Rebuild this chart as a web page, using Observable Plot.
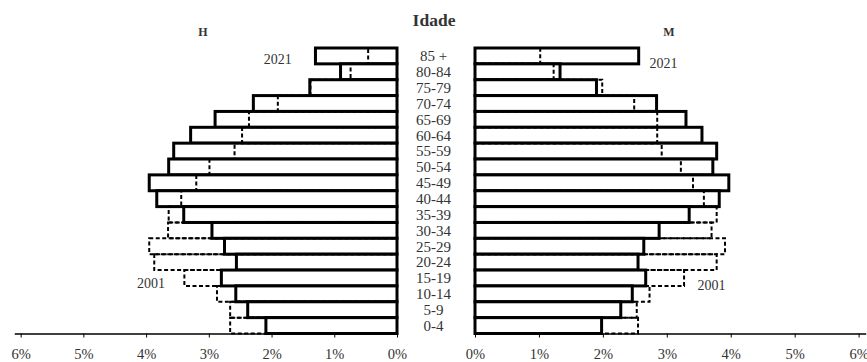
<!DOCTYPE html>
<html><head><meta charset="utf-8">
<script src="https://cdn.jsdelivr.net/npm/d3@7"></script>
<script src="https://cdn.jsdelivr.net/npm/@observablehq/plot@0.6"></script>
<style>
body{margin:0;background:#fff;}
#wrap{position:relative;width:867px;height:362px;font-family:"Liberation Serif",serif;color:#333;overflow:hidden}
#wrap svg{position:absolute;top:0;overflow:visible}
.lab{position:absolute;transform:translate(-50%,-50%);white-space:nowrap;line-height:1}
</style></head><body>
<div id="wrap"></div>
<script>
const ages = ["85 +","80-84","75-79","70-74","65-69","60-64","55-59","50-54","45-49","40-44","35-39","30-34","25-29","20-24","15-19","10-14","5-9","0-4"];
const men2021 = [1.30,0.90,1.39,2.29,2.90,3.29,3.56,3.64,3.95,3.83,3.40,2.95,2.75,2.56,2.80,2.57,2.38,2.09];
const men2001 = [0.46,0.74,1.38,1.90,2.36,2.47,2.59,2.99,3.20,3.44,3.64,3.65,3.95,3.87,3.39,2.87,2.66,2.66];
const women2021 = [2.56,1.33,1.90,2.84,3.30,3.55,3.78,3.72,3.97,3.82,3.35,2.88,2.64,2.55,2.67,2.46,2.28,1.98];
const women2001 = [1.02,1.23,1.99,2.49,2.85,2.85,2.92,3.22,3.41,3.58,3.78,3.70,3.91,3.78,3.27,2.73,2.53,2.55];
const xTicks = [0,1,2,3,4,5,6];
const title = "Idade";
const sexLabels = ["H","M"];
const yearLabels = ["2021","2001"];

const rows = ages.map((a,i)=>({age:a, m21:men2021[i], m01:men2001[i], w21:women2021[i], w01:women2001[i]}));

const font = {fontFamily:'"Liberation Serif", serif', fontSize:"14px", color:"#333", background:"transparent"};
const common = {height:362, marginTop:48, marginBottom:28.5, style:font,
  y:{domain:ages, padding:0, round:false, axis:null}};

const left = Plot.plot({
  ...common, width:400, marginLeft:15, marginRight:3,
  x:{domain:[0,6.09], reverse:true, axis:null},
  marks:[
    Plot.rectX(rows,{x:"m21", y:"age", fill:"white", stroke:"black", strokeWidth:3}),
    Plot.rectX(rows,{x:"m01", y:"age", fill:"none", stroke:"black", strokeWidth:2, strokeDasharray:"4,2.5"}),
    Plot.frame({anchor:"bottom", stroke:"black", strokeWidth:1.5}),
    Plot.axisX({ticks:xTicks, tickFormat:d=>d+"%", tickSize:4, tickPadding:11, stroke:"black", fontSize:14.5}),
    Plot.text([yearLabels[0]],{x:1.91, y:()=>ages[0], dy:3, text:d=>d, fill:"#333"}),
    Plot.text([yearLabels[1]],{x:3.93, y:()=>ages[14], dy:5, text:d=>d, fill:"#333"})
  ]
});
const right = Plot.plot({
  ...common, width:467, marginLeft:75, marginRight:2,
  x:{domain:[0,6.10], axis:null},
  marks:[
    Plot.rectX(rows,{x:"w21", y:"age", fill:"white", stroke:"black", strokeWidth:3}),
    Plot.rectX(rows,{x:"w01", y:"age", fill:"none", stroke:"black", strokeWidth:2, strokeDasharray:"4,2.5"}),
    Plot.frame({anchor:"bottom", stroke:"black", strokeWidth:1.5}),
    Plot.axisX({ticks:xTicks, tickFormat:d=>d+"%", tickSize:4, tickPadding:11, stroke:"black", fontSize:14.5}),
    Plot.axisY({anchor:"left", label:null, tickSize:0, tickPadding:42, textAnchor:"middle", fill:"#333", fontSize:15}),
    Plot.text([yearLabels[0]],{x:2.94, y:()=>ages[0], dy:7, text:d=>d, fill:"#333"}),
    Plot.text([yearLabels[1]],{x:3.69, y:()=>ages[14], dy:7, text:d=>d, fill:"#333"})
  ]
});
const wrap = document.getElementById("wrap");
left.style.left = "0px";
right.style.left = "400px";
wrap.append(left, right);
function lab(t,x,y,css){const d=document.createElement("div");d.className="lab";d.textContent=t;d.style.left=x+"px";d.style.top=y+"px";Object.assign(d.style,css);wrap.append(d);}
lab(title,434,21,{fontWeight:"bold",fontSize:"17.5px"});
lab(sexLabels[0],203,32,{fontWeight:"bold",fontSize:"12px"});
lab(sexLabels[1],669,32,{fontWeight:"bold",fontSize:"12px"});
</script>
</body></html>
